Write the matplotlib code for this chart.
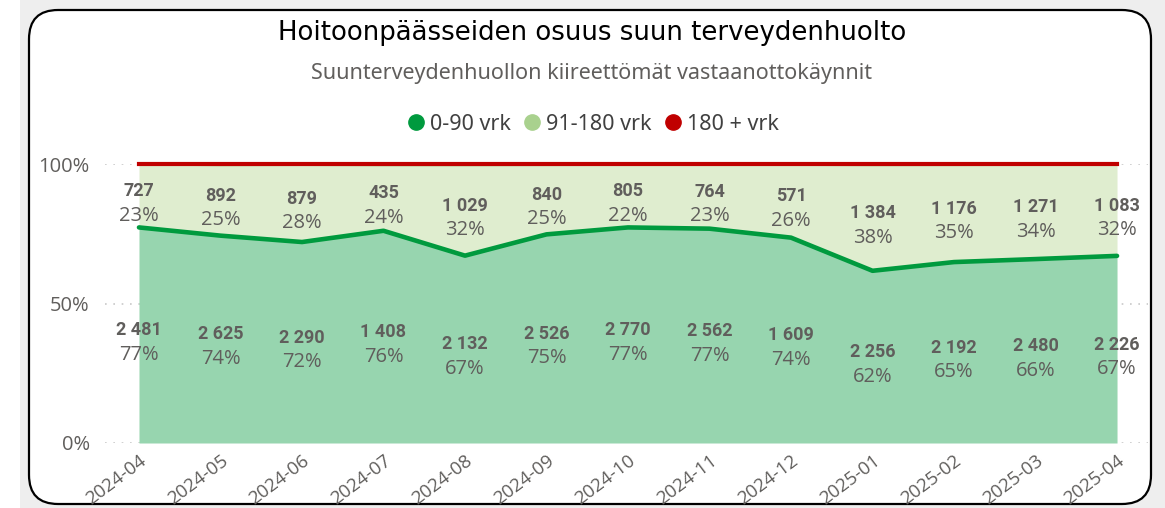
import matplotlib.pyplot as plt
from matplotlib.patches import FancyBboxPatch, Rectangle
from matplotlib.lines import Line2D
import numpy as np

plt.rcParams['font.family'] = ['Noto Sans', 'DejaVu Sans']

# ---- data ----
months = ['2024-04', '2024-05', '2024-06', '2024-07', '2024-08', '2024-09', '2024-10',
          '2024-11', '2024-12', '2025-01', '2025-02', '2025-03', '2025-04']
cnt_0_90 = [2481, 2625, 2290, 1408, 2132, 2526, 2770, 2562, 1609, 2256, 2192, 2480, 2226]
cnt_91_180 = [727, 892, 879, 435, 1029, 840, 805, 764, 571, 1384, 1176, 1271, 1083]
cnt_180 = [3, 15, 10, 8, 14, 12, 10, 9, 6, 15, 12, 11, 10]  # arvio, lähes näkymätön
pct_0_90 = [77, 74, 72, 76, 67, 75, 77, 77, 74, 62, 65, 66, 67]
pct_91_180 = [23, 25, 28, 24, 32, 25, 22, 23, 26, 38, 35, 34, 32]
series_names = ['0-90 vrk', '91-180 vrk', '180 + vrk']
ytick_vals = [0, 0.5, 1]
ytick_labels = ['0%', '50%', '100%']

TXT = '#605E5C'
C_DARK = '#009A3E'
C_LIGHT = '#A9D18E'
C_RED = '#C00000'

W, H = 1165, 508
fig = plt.figure(figsize=(W / 100, H / 100), dpi=100)

# taustan reunus + pyöristetty kehys
fig.patches.append(Rectangle((20 / W, 0), 1, 1, transform=fig.transFigure,
                             facecolor='#EEEEEE', edgecolor='none', zorder=-3))
fig.patches.append(FancyBboxPatch((29 / W, 4 / H), (1151 - 29) / W, (498 - 4) / H,
                                  boxstyle='round,pad=0,rounding_size=0.025',
                                  mutation_aspect=W / H,
                                  transform=fig.transFigure, facecolor='white',
                                  edgecolor='black', linewidth=1.6, zorder=-2))

x = np.arange(len(months))
c1 = np.array(cnt_0_90, dtype=float)
c2 = np.array(cnt_91_180, dtype=float)
c3 = np.array(cnt_180, dtype=float)
tot = c1 + c2 + c3
top1 = c1 / tot
top2 = (c1 + c2) / tot

ax = fig.add_axes([105 / W, (H - 443) / H, (1148 - 105) / W, (443 - 164) / H])
ax.set_xlim(-0.417, 12.38)
ax.set_ylim(0, 1)

ax.fill_between(x, 0, top1, color='#97D5AF', lw=0, zorder=1)
ax.fill_between(x, top1, top2, color='#DFEDCF', lw=0, zorder=1)
ax.fill_between(x, top2, 1, color='#E8A0A0', lw=0, zorder=1)
ax.plot(x, top2, color=C_LIGHT, lw=1.6, zorder=3)
ax.plot(x, np.ones(len(x)), color=C_RED, lw=3, zorder=4, clip_on=False)
ax.plot(x, top1, color=C_DARK, lw=3.3, zorder=5, solid_capstyle='round',
        solid_joinstyle='round')

# arvot
def fmt(v):
    return f"{v:,}".replace(',', ' ')

for i in range(len(x)):
    m2 = (top1[i] + top2[i]) / 2
    m1 = top1[i] / 2
    for m, cnt, pct in [(m2, cnt_91_180[i], pct_91_180[i]), (m1, cnt_0_90[i], pct_0_90[i])]:
        ax.annotate(fmt(cnt), (x[i], m), xytext=(0, -3), textcoords='offset points',
                    ha='center', va='bottom', fontsize=13, fontweight='bold',
                    color=TXT, zorder=6, family=['Roboto', 'DejaVu Sans'])
        ax.annotate(f"{pct}%", (x[i], m), xytext=(0, -7), textcoords='offset points',
                    ha='center', va='top', fontsize=14.5, color=TXT, zorder=6,
                    family=['Open Sans', 'DejaVu Sans'])

ax.set_yticks(ytick_vals)
ax.set_yticklabels(ytick_labels, fontsize=14.5, color=TXT, family=['Open Sans', 'DejaVu Sans'])
ax.set_xticks(x)
ax.set_xticklabels(months, rotation=37, ha='right', va='top', rotation_mode='anchor',
                   fontsize=13.5, color=TXT, family=['Open Sans', 'DejaVu Sans'])
ax.tick_params(axis='both', length=0)
ax.tick_params(axis='y', pad=11)
ax.tick_params(axis='x', pad=6)
ax.grid(axis='y', color='#C8C8C8', linestyle=(0, (1, 4)), lw=1.2, zorder=0)
ax.set_axisbelow(True)
for s in ax.spines.values():
    s.set_visible(False)
ax.patch.set_alpha(0)

# otsikot
fig.text(0.508, 1 - 33 / H, 'Hoitoonpäässeiden osuus suun terveydenhuolto', ha='center',
         va='center', fontsize=18.7, color='black', family=['DejaVu Sans'])
fig.text(0.508, 1 - 73 / H, 'Suunterveydenhuollon kiireettömät vastaanottokäynnit',
         ha='center', va='center', fontsize=15.5, color=TXT)

handles = [Line2D([], [], marker='o', ls='none', ms=11, color=c)
           for c in [C_DARK, C_LIGHT, C_RED]]
fig.legend(handles, series_names, loc='center', bbox_to_anchor=(592 / W, 1 - 124 / H),
           ncol=3, frameon=False, fontsize=15.5, labelcolor='#404040',
           handletextpad=0.15, columnspacing=0.5, handlelength=1.0)

fig.savefig('out.png', dpi=100)
